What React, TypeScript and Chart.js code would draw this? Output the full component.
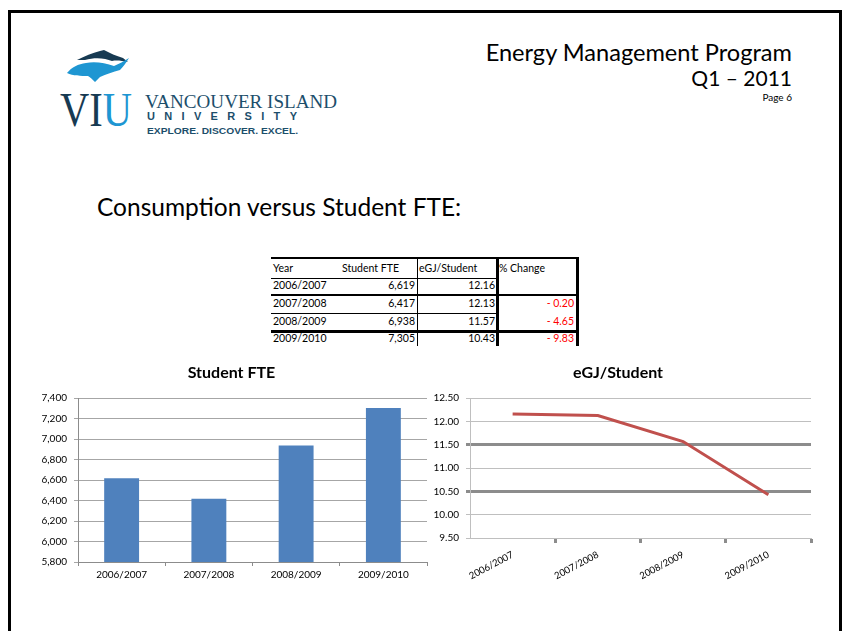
import React, { useEffect, useRef } from 'react';
import { Chart, registerables } from 'chart.js';

Chart.register(...registerables);

// ---- data ----
const years = ['2006/2007', '2007/2008', '2008/2009', '2009/2010'];
const studentFTE = [6619, 6417, 6938, 7305];
const eGJPerStudent = [12.16, 12.13, 11.57, 10.43];
const pctChange: (number | null)[] = [null, -0.2, -4.65, -9.83];
const tableHeaders = ['Year', 'Student FTE', 'eGJ/Student', '% Change'];
const fteAxis = { min: 5800, max: 7400, step: 200 };
const egjAxis = { min: 9.5, max: 12.5, step: 0.5 };
const emphasizedEgjGrid = [11.5, 10.5];

const FONT = 'Lato';
const PAGE_W = 843;

function T(props: {
  x: number; base: number; size: number; children: React.ReactNode;
  align?: 'left' | 'right'; weight?: number; color?: string; family?: string;
}) {
  const { x, base, size, children, align = 'left', weight = 400, color = '#000', family = FONT } = props;
  const style: React.CSSProperties = {
    position: 'absolute', top: base - size * 0.887, fontSize: size, lineHeight: 1,
    fontFamily: family, fontWeight: weight, color, whiteSpace: 'nowrap',
  };
  if (align === 'right') style.right = PAGE_W - x; else style.left = x;
  return <div style={style}>{children}</div>;
}

function L(props: { x: number; y: number; w: number; h: number }) {
  return <div style={{ position: 'absolute', left: props.x, top: props.y, width: props.w, height: props.h, background: '#000' }} />;
}

function Logo() {
  const navy = '#173a52';
  const blue = '#1e96d2';
  const teal = '#1c4e6b';
  return (
    <svg width={400} height={150} style={{ position: 'absolute', left: 0, top: 0 }}>
      <path d="M 77 60 C 85 56 92 53 100 51 L 104 50 C 110 53 116 56 123 58 L 128 62 C 122 61 117 60 112 61 C 105 58 95 57 85 60 Z" fill={navy} />
      <path d="M 67 73 C 72 67 78 64 86 63 C 95 61 105 63 114 66 C 119 64 124 61 129 58 C 126 63 123 67 120 70 C 113 72 106 74 100 77 L 95 82 C 92 79 90 77 88 76 C 81 76 73 76 67 73 Z" fill={blue} />
      <text x={60} y={126} fontFamily="Liberation Serif" fontSize={48} textLength={72} lengthAdjust="spacingAndGlyphs">
        <tspan fill={navy}>VI</tspan><tspan fill={blue}>U</tspan>
      </text>
      <text x={145} y={108} fontFamily="Liberation Serif" fontSize={19} fill={teal} textLength={192} lengthAdjust="spacingAndGlyphs">VANCOUVER ISLAND</text>
      <text x={147} y={120} fontFamily="Liberation Sans" fontWeight="bold" fontSize={11} fill={teal} textLength={150} lengthAdjust="spacing">UNIVERSITY</text>
      <text x={147} y={133.5} fontFamily="Liberation Sans" fontWeight="bold" fontSize={8.5} fill={teal} textLength={151} lengthAdjust="spacingAndGlyphs">EXPLORE. DISCOVER. EXCEL.</text>
    </svg>
  );
}

function DataTable() {
  const rowBase = [289.3, 307.3, 325.3, 342.7];
  const size = 10.5;
  return (
    <>
      <L x={271} y={257} w={306} h={2} />
      <L x={271} y={278} w={226} h={1} />
      <L x={271} y={294} w={306} h={2} />
      <L x={271} y={313} w={226} h={1} />
      <L x={271} y={330} w={306} h={2.5} />
      <L x={417} y={257} w={1} h={89} />
      <L x={496} y={257} w={2.5} h={89} />
      <L x={576} y={257} w={2.5} h={89} />
      <T x={273} base={272.7} size={size}>{tableHeaders[0]}</T>
      <T x={342} base={272.7} size={size}>{tableHeaders[1]}</T>
      <T x={419} base={272.7} size={size}>{tableHeaders[2]}</T>
      <T x={499} base={272.7} size={size}>{tableHeaders[3]}</T>
      {years.map((y, i) => (
        <React.Fragment key={y}>
          <T x={273} base={rowBase[i]} size={size}>{y}</T>
          <T x={415} base={rowBase[i]} size={size} align="right">{studentFTE[i].toLocaleString('en-US')}</T>
          <T x={495} base={rowBase[i]} size={size} align="right">{eGJPerStudent[i].toFixed(2)}</T>
          {pctChange[i] !== null && (
            <T x={574} base={rowBase[i]} size={size} align="right" color="#ff0000">{'- ' + Math.abs(pctChange[i] as number).toFixed(2)}</T>
          )}
        </React.Fragment>
      ))}
    </>
  );
}

function BarChart() {
  const ref = useRef<HTMLCanvasElement>(null);
  useEffect(() => {
    const chart = new Chart(ref.current!, {
      type: 'bar',
      data: {
        labels: years,
        datasets: [{ data: studentFTE, backgroundColor: '#4F81BD', barPercentage: 0.8, categoryPercentage: 0.5 }],
      },
      options: {
        responsive: false,
        animation: false,
        devicePixelRatio: 1,
        layout: { padding: { left: 0, right: 1, top: 0, bottom: 0 } },
        plugins: {
          legend: { display: false },
          tooltip: { enabled: false },
          title: {
            display: true, text: 'Student FTE', color: '#000',
            font: { family: FONT, size: 16, weight: 'bold' },
            padding: { top: 8, bottom: 16 },
          },
        },
        scales: {
          x: {
            grid: { offset: true, drawOnChartArea: false, drawTicks: true, tickLength: 4, color: '#8c8c8c' },
            border: { color: '#8c8c8c' },
            ticks: { font: { family: FONT, size: 10 }, color: '#000', padding: 3, maxRotation: 0 },
            afterFit: (s: any) => { s.height = 28; },
          },
          y: {
            min: fteAxis.min, max: fteAxis.max,
            ticks: { stepSize: fteAxis.step, font: { family: FONT, size: 10 }, color: '#000', padding: 7 },
            grid: { color: '#a6a6a6', tickLength: 4 },
            border: { color: '#8c8c8c' },
            afterFit: (s: any) => { s.width = 42; },
          },
        },
      },
    } as any);
    return () => chart.destroy();
  }, []);
  return <canvas ref={ref} width={392} height={235} style={{ position: 'absolute', left: 36, top: 355, width: 392, height: 235 }} />;
}

function LineChart() {
  const ref = useRef<HTMLCanvasElement>(null);
  useEffect(() => {
    const isEmph = (v: number) => emphasizedEgjGrid.some((e) => Math.abs(e - v) < 1e-6);
    const chart = new Chart(ref.current!, {
      type: 'line',
      data: {
        labels: years,
        datasets: [{ data: eGJPerStudent, borderColor: '#C0504D', borderWidth: 3, pointRadius: 0, tension: 0, fill: false }],
      },
      options: {
        responsive: false,
        animation: false,
        devicePixelRatio: 1,
        layout: { padding: { left: 0, right: 6, top: 0, bottom: 0 } },
        plugins: {
          legend: { display: false },
          tooltip: { enabled: false },
          title: {
            display: true, text: 'eGJ/Student', color: '#000',
            font: { family: FONT, size: 16, weight: 'bold' },
            padding: { top: 8, bottom: 16 },
          },
        },
        scales: {
          x: {
            offset: true,
            grid: {
              offset: true, drawOnChartArea: false, drawTicks: true, tickLength: 5, tickWidth: 3,
              tickColor: (c: any) => (c.index === 0 ? 'rgba(0,0,0,0)' : '#8c8c8c'),
            },
            border: { color: '#bfbfbf' },
            ticks: { font: { family: FONT, size: 9.5 }, color: '#000', padding: 6, minRotation: 28, maxRotation: 28 },
            afterFit: (s: any) => { s.height = 67; },
          },
          y: {
            min: egjAxis.min, max: egjAxis.max,
            ticks: {
              stepSize: egjAxis.step, font: { family: FONT, size: 10 }, color: '#000', padding: 7,
              callback: (v: any) => Number(v).toFixed(2),
            },
            grid: {
              tickLength: 4,
              color: (c: any) => (c.tick && isEmph(c.tick.value) ? '#8c8c8c' : '#bfbfbf'),
              lineWidth: (c: any) => (c.tick && isEmph(c.tick.value) ? 3 : 1),
            },
            border: { color: '#bfbfbf' },
            afterFit: (s: any) => { s.width = 45; },
          },
        },
      },
    } as any);
    return () => chart.destroy();
  }, []);
  return <canvas ref={ref} width={392} height={250} style={{ position: 'absolute', left: 425, top: 355, width: 392, height: 250 }} />;
}

export default function App() {
  return (
    <div style={{ position: 'absolute', left: 0, top: 0, width: PAGE_W, height: 631, overflow: 'hidden', background: '#fff', fontFamily: FONT }}>
      <div style={{ position: 'absolute', left: 8, top: 10, width: 834, height: 700, border: '3px solid #000', boxSizing: 'border-box' }} />
      <Logo />
      <T x={792} base={62} size={23.6} align="right">Energy Management Program</T>
      <T x={792} base={86} size={21} align="right">Q1 – 2011</T>
      <T x={792} base={101} size={10} align="right">Page 6</T>
      <T x={97} base={217} size={24.5}>Consumption versus Student FTE:</T>
      <DataTable />
      <BarChart />
      <LineChart />
    </div>
  );
}
